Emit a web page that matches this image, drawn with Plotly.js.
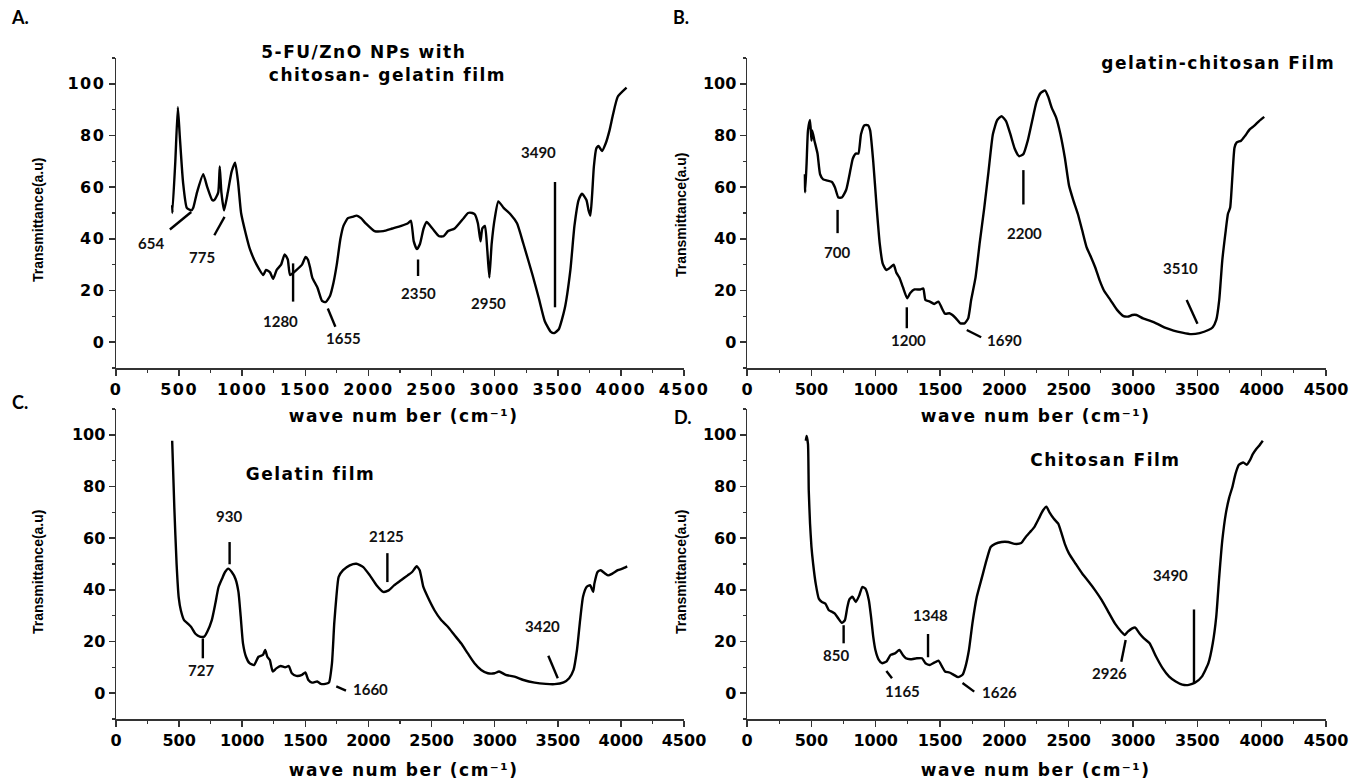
<!DOCTYPE html>
<html>
<head>
<meta charset="utf-8">
<script src="https://cdn.plot.ly/plotly-3.0.1.min.js"></script>
<style>
body{margin:0;background:#fff}
#chart{width:1362px;height:780px}
.xtick text,.ytick text{letter-spacing:1.5px}
</style>
</head>
<body>
<div id="chart"></div>
<script>
// ---- Panel A: 5-FU/ZnO NPs with chitosan-gelatin film ----
const xA = [445,447,470,490,505,531,561,597,612,642,691,723,762,779,810,822,835,856,886,916,944,967,991,1028,1061,1114,1167,1188,1220,1245,1273,1308,1336,1361,1379,1431,1474,1502,1520,1537,1555,1597,1632,1661,1696,1723,1749,1778,1802,1837,1872,1907,1941,1978,2048,2118,2189,2260,2313,2337,2359,2384,2408,2437,2461,2507,2560,2595,2631,2683,2754,2789,2823,2842,2867,2888,2902,2923,2941,2958,2976,3001,3029,3071,3125,3177,3228,3300,3350,3398,3445,3472,3508,3555,3600,3632,3665,3692,3727,3744,3758,3772,3786,3805,3823,3850,3880,3910,3937,3975,4045];
const yA = [53,50,70,91,80,62,52,51,52,58,65,60,55,55,58,68,58,51,58,66,69.5,62,50,42,36,30,26,28,27,24.5,28,30,34,32,26,28,30,33,32,29,25,21,16,15.5,18,23,30,40,45,48,48.5,49,48,46,43,43,44,45,46,47,39,36,38,44,46.5,44,41,41,43,44,48,50,50,49.5,46,39,44,45,36,25,38,48,54.5,52,49.5,46,38,26,17,8,4,3.5,5,13,28,45,55,57.5,55,51,49,57,68,75,76,74,77,82,88,95,98.5];

// ---- Panel B: gelatin-chitosan film ----
const xB = [450,452,463,474,490,501,507,524,548,568,592,626,660,683,710,737,771,805,822,846,866,886,913,940,957,981,1008,1032,1055,1083,1116,1140,1160,1184,1211,1245,1269,1302,1346,1370,1387,1421,1455,1488,1516,1539,1573,1597,1624,1658,1691,1719,1742,1776,1810,1844,1877,1911,1945,1979,2013,2047,2080,2114,2148,2182,2216,2250,2283,2317,2341,2368,2402,2436,2470,2503,2537,2571,2605,2639,2673,2706,2740,2774,2825,2876,2926,2960,2994,3028,3078,3129,3180,3248,3315,3383,3451,3518,3586,3620,3647,3670,3694,3721,3738,3755,3772,3789,3806,3840,3873,3907,3941,3980,4020];
const yB = [65,58,69,82,86,78,82,78,73,65,63,62.5,62,60,56,56,59,67,71,73,73,80.5,84,84,82,70,52,38,30.4,27.9,29,30,27,25,21.4,17,19,20.4,20.4,20.8,16.3,15.7,14.8,15.7,13,11,11.2,10.5,9.2,7.3,7.3,9.2,16.3,25,39,52,66,80.5,86,87.5,85.6,80.5,75,72,72.8,78,85.6,93,96.5,97.4,95,90.8,87,80.5,71.5,60.6,54.8,49.7,43.3,36.8,33,29,24,20,16.3,12.5,10.1,9.9,10.5,10.5,9.2,8.3,7.3,5.6,4.5,3.7,3.1,3.5,4.7,5.8,8.6,16.3,31.7,43.3,49.7,52,63.8,75.3,77.3,78,80,82.4,83.7,85.6,87.2];

// ---- Panel C: gelatin film ----
const xC = [445,462,480,497,514,539,567,594,629,664,699,723,759,787,812,840,864,889,917,946,970,988,1006,1030,1058,1094,1129,1164,1182,1199,1218,1242,1270,1305,1340,1369,1393,1429,1474,1500,1524,1553,1594,1623,1658,1687,1711,1729,1746,1764,1799,1852,1905,1959,2011,2064,2117,2160,2205,2258,2311,2346,2382,2406,2435,2469,2523,2576,2629,2681,2734,2787,2840,2893,2946,2999,3035,3087,3157,3228,3317,3405,3475,3546,3590,3625,3652,3677,3700,3728,3756,3780,3790,3815,3840,3870,3898,3933,3976,4012,4050];
const yC = [97.7,72,50,37,32,28.3,27,25.7,23,21.9,21.9,23.8,28.3,34.7,41,44.3,46.9,48.2,46.9,44.3,39.2,29.6,19.3,14.1,11.6,10.9,14.1,14.8,16.7,14.1,12.9,8.4,9.6,10.5,10,10.5,7.7,6.7,7.1,8,5.1,4.1,4.5,3.6,3.6,4.1,11.6,27,37.3,45,47.6,49.5,50.1,48.8,45.6,41.8,39.2,39.8,41.8,43.7,45.6,46.9,49.1,47.6,41.1,37.3,32.1,28.3,25.7,22.5,19.3,15.4,11.6,9,7.7,7.7,8.4,7.1,6.4,5.1,4.1,3.6,3.5,4.2,5.8,9,16.7,28.3,37.3,41.1,41.8,39.2,42.4,46.9,47.6,46.5,45.6,46.3,47.6,48.2,49.1];

// ---- Panel D: chitosan film ----
const xD = [457,463,474,480,490,501,514,534,558,582,609,636,660,683,710,737,761,778,795,819,846,873,896,920,947,964,981,998,1022,1049,1083,1116,1150,1184,1211,1235,1269,1319,1360,1387,1421,1455,1488,1516,1539,1573,1607,1641,1675,1698,1725,1752,1786,1827,1861,1894,1928,1979,2030,2080,2131,2165,2199,2233,2267,2300,2327,2351,2385,2419,2442,2470,2503,2554,2605,2656,2706,2757,2808,2859,2909,2936,2960,2994,3018,3051,3085,3129,3180,3231,3281,3332,3383,3434,3484,3535,3586,3620,3647,3670,3694,3721,3748,3772,3796,3823,3857,3884,3907,3931,3958,3985,4009];
const yD = [97.7,99.6,96.4,78.4,65.6,56.6,50.1,42.4,36.6,35.3,34.7,32.1,31.5,30.8,28.9,27.2,28.3,32.8,36.2,37.3,35.3,37.9,41.1,40.5,36,29.6,21.9,16.7,13.1,11.6,12.2,14.8,15.4,16.7,14.8,13.5,13.1,13.5,13.5,11.6,10.9,11.8,12.6,10.3,8.4,8,7.1,6.2,7.1,10.3,16.7,27,37.3,45,51.4,56.6,57.8,58.5,58.5,57.8,58.1,60.4,62.3,64.3,67.5,70.7,72.2,70,67.5,65.6,62.3,57.8,54,50.1,46.3,43.1,39.8,36,31.5,27,23.8,22.5,23.8,25.1,25.4,23.1,21.2,19.3,14.1,9.6,6.4,4.5,3.3,3.2,4.1,6.4,11.6,19.3,29.6,45,59.1,69.4,75.8,79.7,84.8,88.4,89.3,88.4,90,92.5,94.5,96.1,97.7];

// ---- Peak labels: [text, label x, label y, mark x0, mark y0, mark x1, mark y1] (mark null = no line) ----
const peaksA = [
  ['654', 275, 38.5, 427, 43.6, 596, 50.4],
  ['775', 681, 33, 779, 41.4, 860, 48.5],
  ['1280', 1302, 8, 1403, 30.5, 1403, 15.7],
  ['1655', 1802, 1.5, 1678, 13, 1738, 6],
  ['2350', 2393, 19, 2393, 32, 2393, 25.6],
  ['2950', 2955, 15, null, null, null, null],
  ['3490', 3345, 73.6, 3478, 62, 3478, 13.5]
];
const peaksB = [
  ['700', 700, 35, 704, 51.2, 704, 42.2],
  ['1200', 1252, 1, 1242, 13.5, 1242, 5.4],
  ['1690', 2003, 1, 1708, 4.7, 1820, 1.9],
  ['2200', 2155, 42.4, 2148, 66.6, 2148, 53.3],
  ['3510', 3366, 28.8, 3417, 16.3, 3501, 7.1]
];
const peaksC = [
  ['727', 671, 9, 688, 21.2, 688, 13.5],
  ['930', 893, 68.4, 900, 58.5, 900, 49.9],
  ['1660', 2015, 1.5, 1745, 2.6, 1822, 1],
  ['2125', 2145, 61, 2150, 54.2, 2150, 43],
  ['3420', 3375, 26, 3425, 14.5, 3500, 5.8]
];
const peaksD = [
  ['850', 694, 14.8, 751, 26.3, 751, 19.3],
  ['1165', 1211, 1, 1083, 8.6, 1127, 5.8],
  ['1348', 1428, 30.2, 1407, 22.9, 1407, 13.9],
  ['1626', 1962, 0.6, 1675, 3.9, 1766, 0.6],
  ['2926', 2818, 8, 2909, 12.2, 2943, 20.6],
  ['3490', 3288, 45.6, 3474, 32.4, 3474, 3.5]
];

const W = 1362, H = 780;
const px = v => v / W;
const py = v => 1 - v / H;

function trace(x, y, xa, ya) {
  return {x: x, y: y, xaxis: xa, yaxis: ya, type: 'scatter', mode: 'lines',
    line: {color: '#000', width: 2.4, shape: 'spline', smoothing: 0.5}, hoverinfo: 'skip'};
}
const data = [
  trace(xA, yA, 'x', 'y'),
  trace(xB, yB, 'x2', 'y2'),
  trace(xC, yC, 'x3', 'y3'),
  trace(xD, yD, 'x4', 'y4')
];

const tickFont = {family: 'DejaVu Sans', size: 16, color: '#000', weight: 'bold'};
function xax(d0, d1, anchor) {
  return {domain: [px(d0), px(d1)], range: [0, 4500], anchor: anchor, tick0: 0, dtick: 500,
    ticks: 'outside', ticklen: 6, tickwidth: 1.5, tickcolor: '#333',
    minor: {dtick: 250, ticks: 'outside', ticklen: 3, tickwidth: 1.2, tickcolor: '#333'},
    showline: true, linecolor: '#333', linewidth: 1.5, showgrid: false, zeroline: false,
    tickfont: tickFont, fixedrange: true};
}
function yax(d0, d1, anchor) {
  return {domain: [py(d1), py(d0)], range: [-10, 110], anchor: anchor,
    tickvals: [0, 20, 40, 60, 80, 100],
    ticks: 'outside', ticklen: 6, tickwidth: 1.5, tickcolor: '#333',
    minor: {tickvals: [-10, 10, 30, 50, 70, 90, 110], ticks: 'outside', ticklen: 3, tickwidth: 1.2, tickcolor: '#333'},
    showline: true, linecolor: '#333', linewidth: 1.5, showgrid: false, zeroline: false,
    tickfont: tickFont, fixedrange: true};
}

const annotations = [];
const shapes = [];
function addPeaks(list, xa, ya) {
  list.forEach(p => {
    annotations.push({text: p[0], x: p[1], y: p[2], xref: xa, yref: ya, showarrow: false,
      font: {family: 'Lato', size: 15, color: '#111', weight: 'bold'}, xanchor: 'center', yanchor: 'middle'});
    if (p[3] !== null) {
      shapes.push({type: 'line', xref: xa, yref: ya, x0: p[3], y0: p[4], x1: p[5], y1: p[6],
        line: {color: '#000', width: 2.4}});
    }
  });
}
addPeaks(peaksA, 'x', 'y');
addPeaks(peaksB, 'x2', 'y2');
addPeaks(peaksC, 'x3', 'y3');
addPeaks(peaksD, 'x4', 'y4');

function paperText(text, x, y, font, extra) {
  annotations.push(Object.assign({text: text, x: px(x), y: py(y), xref: 'paper', yref: 'paper',
    showarrow: false, xanchor: 'center', yanchor: 'middle', font: font}, extra || {}));
}
const letterFont = {family: 'Lato', size: 18, color: '#000', weight: 'bold'};
paperText('A.', 20, 17, letterFont);
paperText('B.', 681, 17, letterFont);
paperText('C.', 20, 402, letterFont);
paperText('D.', 683, 417, letterFont);

const titleFont = {family: 'DejaVu Sans', size: 17, color: '#000', weight: 'bold'};
const wideTexts = [];
function wideText(text, x, y, font, extra) { wideTexts.push(text); paperText(text, x, y, font, extra); }
wideText('5-FU/ZnO NPs with', 364, 52, titleFont);
wideText(' chitosan- gelatin film', 384, 75, titleFont);
wideText('gelatin-chitosan Film', 1218, 63, titleFont);
wideText('Gelatin film', 310, 474, titleFont);
wideText('Chitosan Film', 1105, 460, titleFont);

const axTitleFont = {family: 'DejaVu Sans', size: 17, color: '#000', weight: 'bold'};
const xt = 'wave num ber (cm\u207B\u00B9)';
wideText(xt, 403, 416, axTitleFont);
wideText(xt, 1035, 416, axTitleFont);
wideText(xt, 403, 770, axTitleFont);
wideText(xt, 1035, 770, axTitleFont);

const yTitleFont = {family: 'Liberation Sans', size: 14, color: '#000', weight: 'bold'};
const yt = 'Transmittance(a.u)';
paperText(yt, 38, 220, yTitleFont, {textangle: -90});
paperText(yt, 681, 215, yTitleFont, {textangle: -90});
paperText(yt, 38, 572, yTitleFont, {textangle: -90});
paperText(yt, 681, 572, yTitleFont, {textangle: -90});

const layout = {
  width: W, height: H, margin: {l: 0, r: 0, t: 0, b: 0},
  paper_bgcolor: '#fff', plot_bgcolor: 'rgba(0,0,0,0)', showlegend: false,
  xaxis: xax(116, 684, 'y'), yaxis: yax(58, 368, 'x'),
  xaxis2: xax(747, 1326, 'y2'), yaxis2: yax(58, 368, 'x2'),
  xaxis3: xax(116, 684, 'y3'), yaxis3: yax(409, 719, 'x3'),
  xaxis4: xax(747, 1326, 'y4'), yaxis4: yax(409, 719, 'x4'),
  annotations: annotations, shapes: shapes
};
Plotly.newPlot('chart', data, layout, {displayModeBar: false, staticPlot: true}).then(() => {
  document.querySelectorAll('#chart .annotation-text').forEach(t => {
    if (wideTexts.indexOf(t.textContent) !== -1) t.style.letterSpacing = '1.5px';
  });
});
</script>
</body>
</html>
